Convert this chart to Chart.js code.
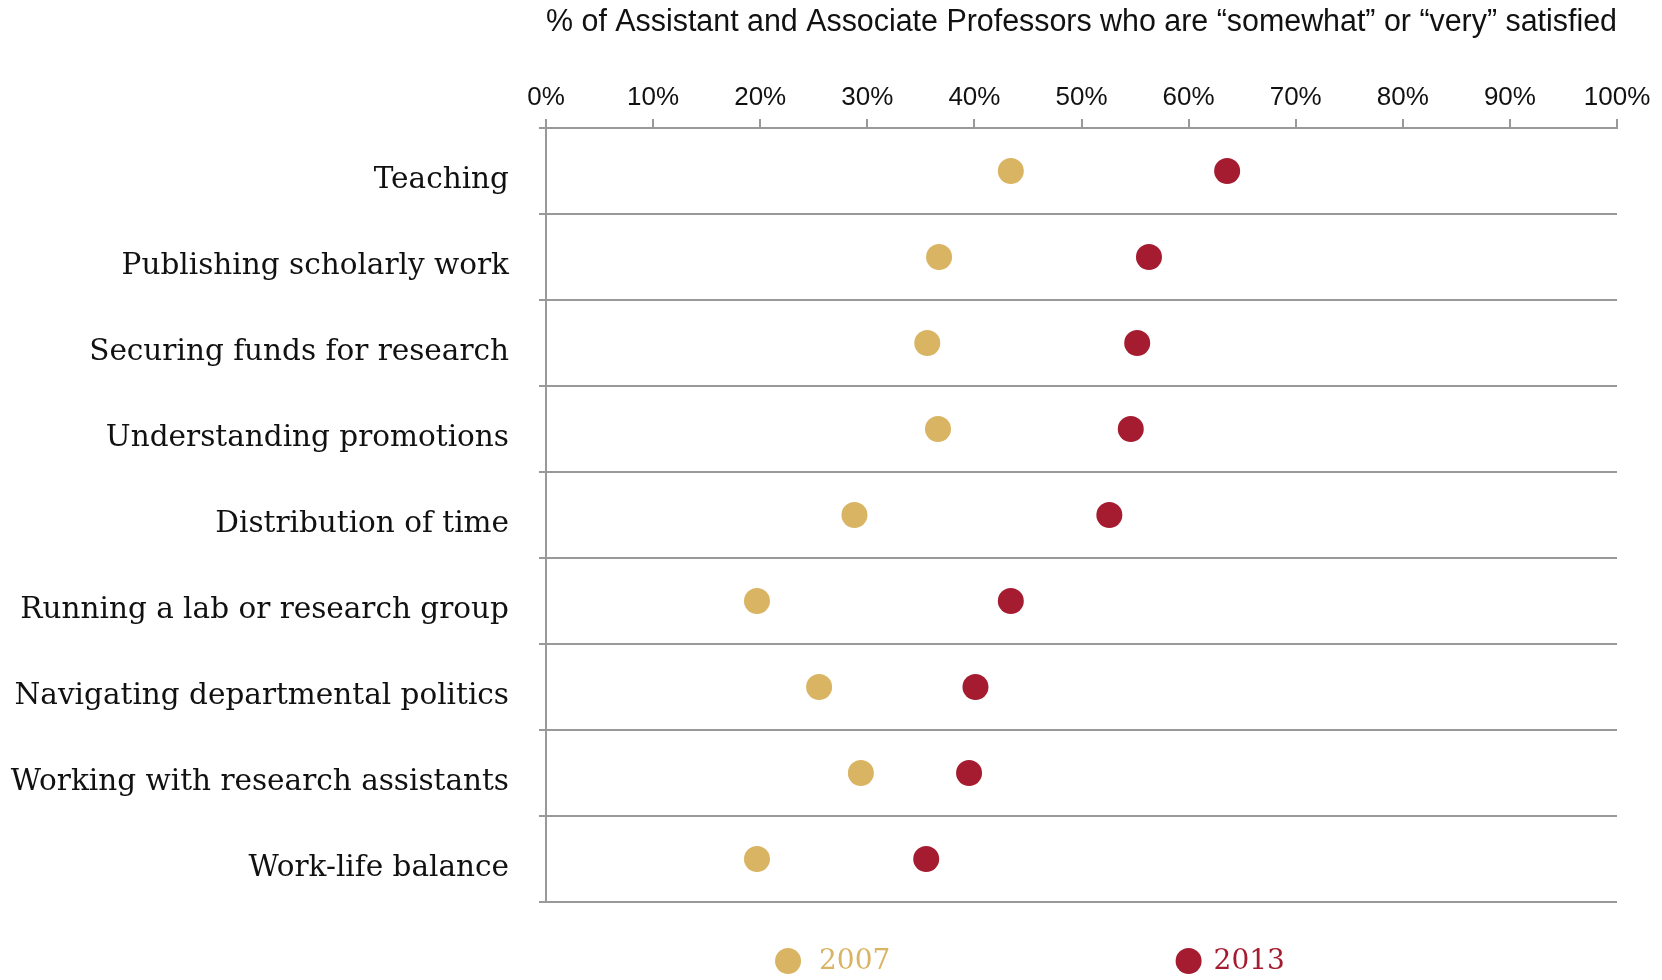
<!DOCTYPE html>
<html>
<head>
<meta charset="utf-8">
<script src="https://cdn.jsdelivr.net/npm/chart.js@4"></script>
<style>
  html, body { margin: 0; padding: 0; background: #fff; }
  #wrap { width: 1662px; height: 980px; }
</style>
</head>
<body>
<div id="wrap"><canvas id="chart"></canvas></div>
<script>
const categories = [
  'Teaching',
  'Publishing scholarly work',
  'Securing funds for research',
  'Understanding promotions',
  'Distribution of time',
  'Running a lab or research group',
  'Navigating departmental politics',
  'Working with research assistants',
  'Work-life balance',
];
const values2007 = [43.4, 36.7, 35.6, 36.6, 28.8, 19.7, 25.5, 29.4, 19.7];
const values2013 = [63.6, 56.3, 55.2, 54.6, 52.6, 43.4, 40.1, 39.5, 35.5];
const seriesNames = ['2007', '2013'];
const seriesColors = ['#D9B463', '#A51C30'];

const titleText = '% of Assistant and Associate Professors who are \u201csomewhat\u201d or \u201cvery\u201d satisfied';
const gridColor = '#999999';

// legend drawn under the plot, dots + coloured year text
const dotLegend = {
  id: 'dotLegend',
  afterDraw(chart) {
    const ctx = chart.ctx;
    const area = chart.chartArea;
    const w = area.right - area.left;
    const spots = [0.226, 0.6];
    ctx.save();
    ctx.font = '28px "DejaVu Serif", serif';
    ctx.textBaseline = 'middle';
    chart.data.datasets.forEach((ds, i) => {
      const cx = area.left + w * spots[i];
      const cy = 961;
      ctx.fillStyle = ds.backgroundColor;
      ctx.beginPath();
      ctx.arc(cx, cy, 13, 0, Math.PI * 2);
      ctx.fill();
      ctx.fillText(ds.label, cx + (i === 0 ? 31 : 25), cy + 1);
    });
    ctx.restore();
  },
};

const ctx = document.getElementById('chart').getContext('2d');

new Chart(ctx, {
  type: 'line',
  data: {
    labels: categories,
    datasets: [
      {
        label: seriesNames[0],
        data: values2007,
        backgroundColor: seriesColors[0],
        borderColor: seriesColors[0],
      },
      {
        label: seriesNames[1],
        data: values2013,
        backgroundColor: seriesColors[1],
        borderColor: seriesColors[1],
      },
    ],
  },
  options: {
    indexAxis: 'y',
    responsive: true,
    maintainAspectRatio: false,
    animation: false,
    showLine: false,
    elements: {
      point: { radius: 13, hoverRadius: 13, borderWidth: 0 },
    },
    layout: {
      padding: { left: 8, right: 45, top: 2, bottom: 78 },
    },
    plugins: {
      legend: { display: false },
      tooltip: { enabled: false },
    },
    scales: {
      x: {
        position: 'top',
        min: 0,
        max: 100,
        afterFit(scale) { scale.height = 126; },
        ticks: {
          stepSize: 10,
          padding: 6,
          color: '#111',
          font: { family: '"Liberation Sans", sans-serif', size: 26 },
          callback: (v) => v + '%',
        },
        grid: {
          drawOnChartArea: false,
          drawTicks: true,
          tickLength: 9,
          color: gridColor,
          lineWidth: 2,
        },
        border: { display: true, color: gridColor, width: 2 },
        title: {
          display: true,
          text: titleText,
          color: '#111',
          font: { family: '"Liberation Sans", sans-serif', size: 30.8 },
          padding: { top: 2, bottom: 0 },
        },
      },
      y: {
        type: 'category',
        offset: true,
        afterFit(scale) { scale.width = 546 - 8; },
        ticks: {
          padding: 30,
          labelOffset: 9,
          color: '#111',
          font: { family: '"DejaVu Serif", serif', size: 29.5 },
        },
        grid: {
          offset: true,
          drawTicks: true,
          tickLength: 7,
          color: gridColor,
          lineWidth: 2,
        },
        border: { display: true, color: gridColor, width: 2 },
      },
    },
  },
  plugins: [dotLegend],
});
</script>
</body>
</html>
